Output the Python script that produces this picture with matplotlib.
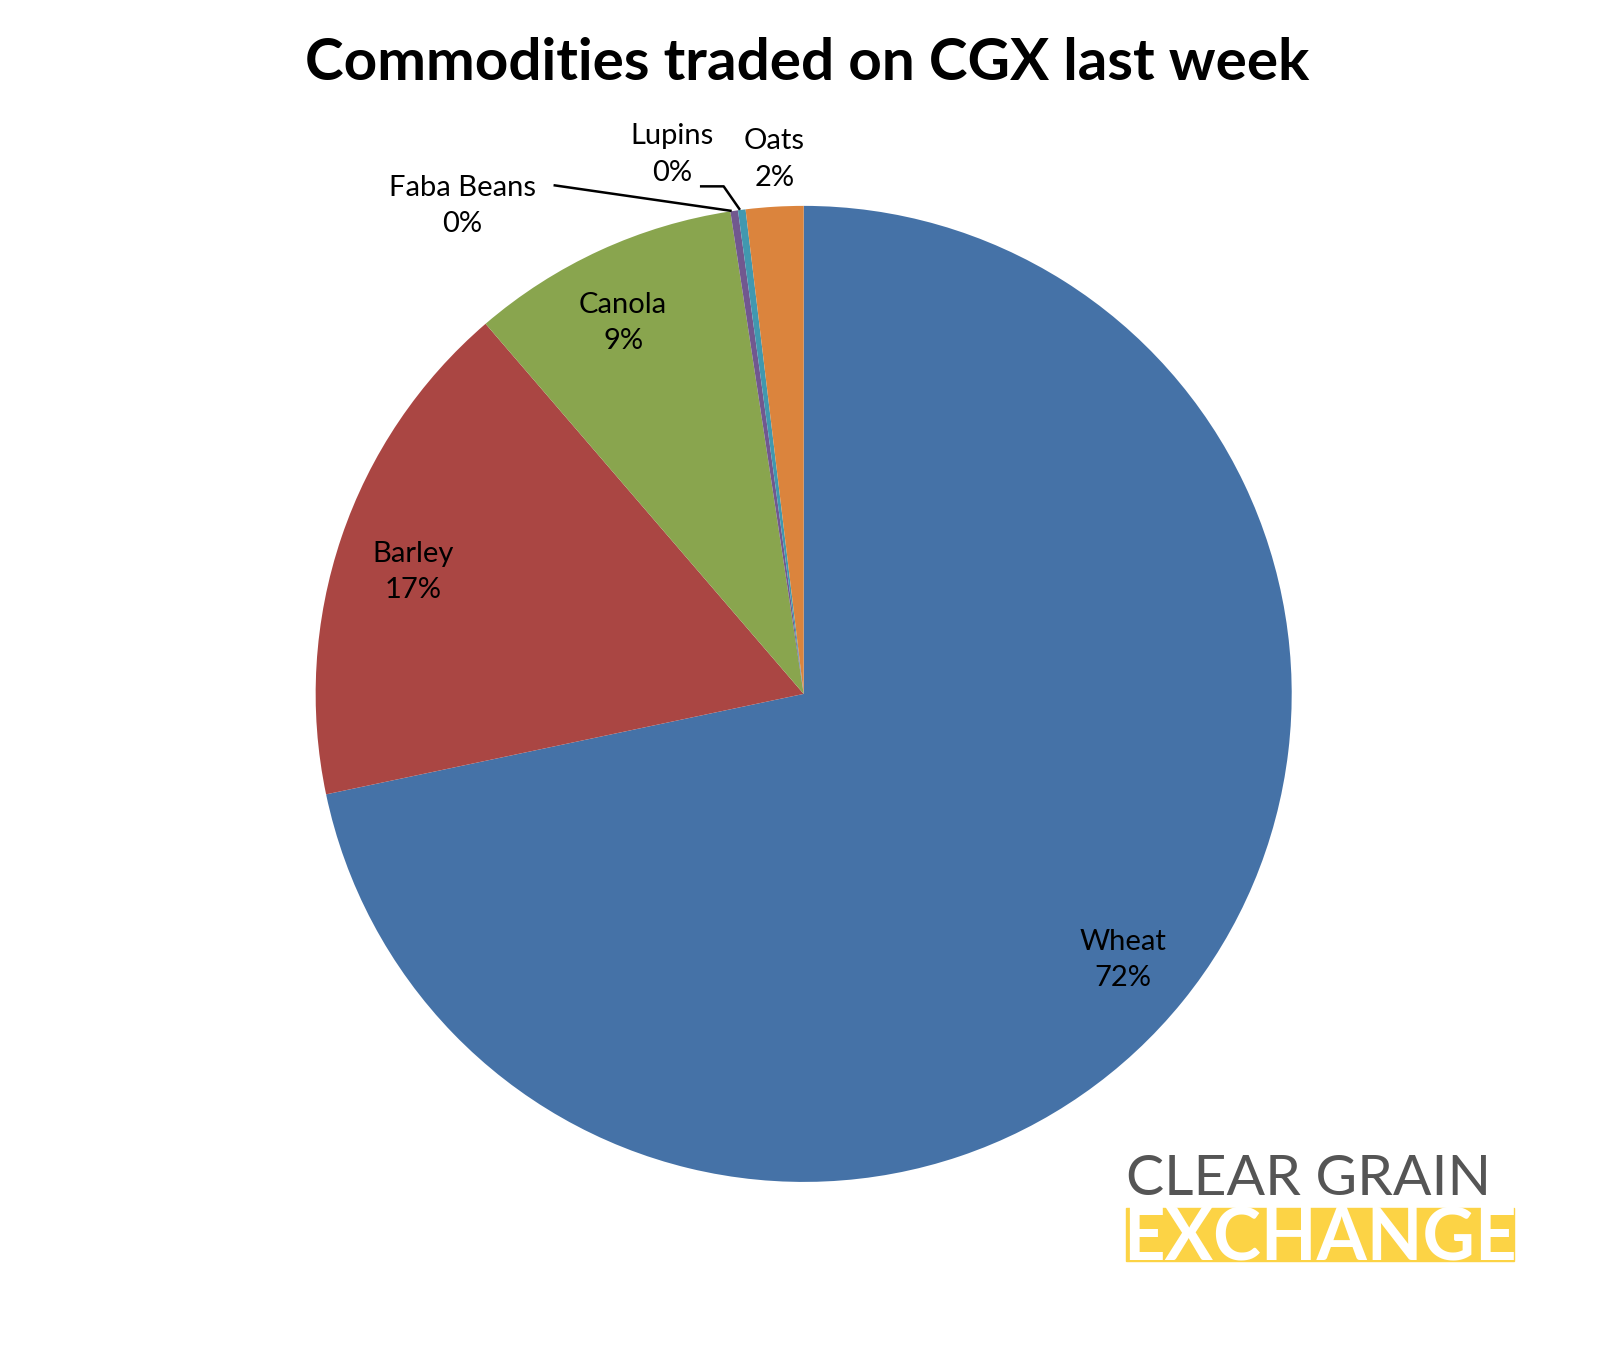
import numpy as np
import matplotlib.pyplot as plt

# Data
commodities = ['Wheat', 'Barley', 'Canola', 'Faba Beans', 'Lupins', 'Oats']
shares = [71.7, 17.0, 8.9, 0.25, 0.25, 1.9]
pct_labels = ['72%', '17%', '9%', '0%', '0%', '2%']
colors = ['#4572A7', '#AA4643', '#89A54E', '#71588F', '#4198AF', '#DB843D']

plt.rcParams['font.family'] = ['Lato', 'DejaVu Sans']

fig = plt.figure(figsize=(16.08, 13.5), dpi=100)
ax = fig.add_axes([0.1963, 0.1245, 0.607, 0.723])
ax.pie(shares, colors=colors, startangle=90, counterclock=False, radius=1,
       wedgeprops=dict(linewidth=0))
ax.set_xlim(-1, 1)
ax.set_ylim(-1, 1)
ax.set_aspect('equal')
ax.axis('off')

# label positions (in radius units)
label_pos = {
    'Wheat': (0.655, -0.545),
    'Barley': (-0.80, 0.25),
    'Canola': (-0.37, 0.76),
    'Faba Beans': (-0.70, 1.00),
    'Lupins': (-0.27, 1.105),
    'Oats': (-0.06, 1.095),
}
for name, pct in zip(commodities, pct_labels):
    x, y = label_pos[name]
    ax.text(x, y, f'{name}\n{pct}', ha='center', va='center', fontsize=21,
            linespacing=1.5, clip_on=False)

# leader lines
ax.plot([-0.51, -0.15], [1.042, 0.99], color='black', lw=1.8, clip_on=False)
ax.plot([-0.21, -0.164, -0.132], [1.04, 1.04, 0.994], color='black', lw=1.8, clip_on=False)

fig.text(0.502, 0.953, 'Commodities traded on CGX last week', ha='center', va='center',
         fontsize=42, fontweight='bold')

# logo
fig.text(0.7005, 0.1265, 'CLEAR GRAIN', ha='left', va='center', fontsize=41,
         color='#555555')
fig.patches.append(plt.Rectangle((0.7005, 0.0662), 0.241, 0.039, transform=fig.transFigure,
                                 color='#FCD345', zorder=1))
fig.text(0.6985, 0.0662, 'EXCHANGE', ha='left', va='baseline', fontsize=52, fontweight='bold',
         color='white', zorder=2)

fig.savefig('out.png', dpi=100, facecolor='white')
